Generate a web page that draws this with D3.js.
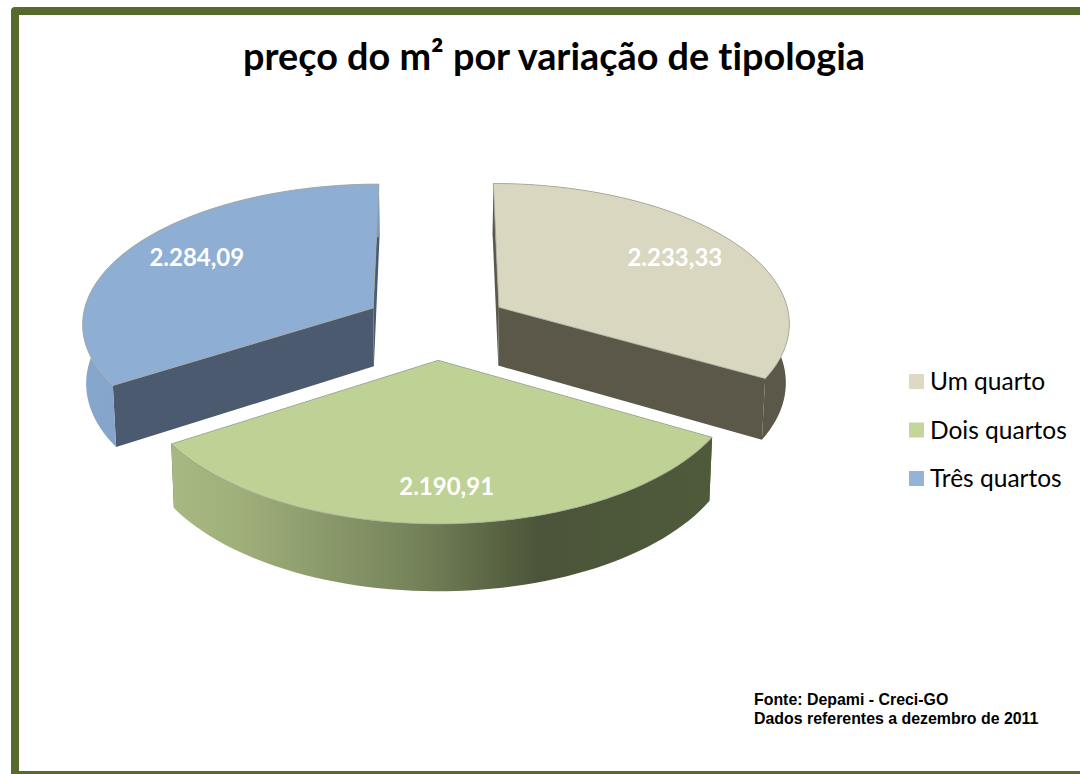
<html>

<head>
    <meta charset="utf-8">
    <style>
        body { margin: 0; background: white; }
        svg { display: block; }
        text { font-family: Lato, sans-serif; font-variant-ligatures: none; }
        .slices path { stroke-linejoin: round; }
    </style>
</head>

<body>
    <svg id="container" width="1080" height="774"></svg>
</body>
<script src="https://cdn.jsdelivr.net/npm/d3@7"></script>
<script>
    const categories = ["Um quarto", "Dois quartos", "Três quartos"]
    const values = [2233.33, 2190.91, 2284.09]
    const valueLabels = ["2.233,33", "2.190,91", "2.284,09"]
    const topColors = ["#d9d7bf", "#bfd295", "#8faed4"]
    const legendColors = ["#ddd9c3", "#c3d69b", "#95b3d7"]
    const wallColors = ["#5b5749", "url(#greenWall)", "url(#blueWall)"]
    const cutColors = ["#5b5749", "#4e5a3b", "#4b5a6e"]
    const sourceLines = ["Fonte: Depami - Creci-GO", "Dados referentes a dezembro de 2011"]

    let svg = d3.select("#container")

    // page frame, only the left, top and bottom edges fall inside the picture
    svg.append("rect")
        .attr("x", 15).attr("y", 11)
        .attr("width", 1200).attr("height", 764)
        .attr("fill", "none")
        .attr("stroke", "#566a2c")
        .attr("stroke-width", 8)
        .attr("stroke-linejoin", "round")

    svg.append("text")
        .attr("x", 554).attr("y", 70)
        .attr("text-anchor", "middle")
        .attr("font-size", 37.8)
        .attr("font-weight", "bold")
        .attr("fill", "#000")
        .text("preço do m² por variação de tipologia")

    let defs = svg.append("defs")
    function addGradient(id, stops) {
        let g = defs.append("linearGradient").attr("id", id)
        stops.forEach(s => g.append("stop").attr("offset", s[0]).attr("stop-color", s[1]))
    }
    addGradient("greenWall", [[0, "#a8b882"], [0.12, "#a0b07b"], [0.45, "#75835a"], [0.68, "#4b5438"], [1, "#4f5a3b"]])
    addGradient("blueWall", [[0, "#86a6cc"], [1, "#7c9abd"]])

    // the pie lies on a tilted plane: depth runs towards the viewer and things get bigger as they come closer
    let persp = 0.1
    let explode = 0.25
    let thickness = 59
    let shrink = 0.01

    let scaleX = d3.scaleLinear().domain([-1, 1]).range([436.5 - 292, 436.5 + 292])
    let scaleY = d3.scaleLinear().domain([-1, 1]).range([324.6 - 139.5, 324.6 + 139.5])

    function project(wx, wy, z) {
        let s = 1 / (1 - persp * wy)
        return [
            scaleX(wx * s * (1 - shrink * z)) ,
            scaleY(wy * s) + thickness * s * z
        ]
    }

    let pie = d3.pie().sort(null)
    let arcs = pie(values)
    let line = d3.line()

    arcs.forEach(a => {
        let mid = (a.startAngle + a.endAngle) / 2
        a.ox = Math.sin(mid) * explode
        a.oy = -Math.cos(mid) * explode
    })

    function radial(a, angle, r, z) {
        return project(a.ox + Math.sin(angle) * r, a.oy - Math.cos(angle) * r, z)
    }

    function rim(a, z) {
        return d3.range(0, 61).map(i => {
            let t = a.startAngle + (a.endAngle - a.startAngle) * i / 60
            return radial(a, t, 1, z)
        })
    }

    let slices = svg.append("g").attr("class", "slices")

    // back slices first so the green one sits in front
    let order = [0, 2, 1]
    order.forEach(i => {
        let a = arcs[i]
        let g = slices.append("g")

        ;[a.startAngle, a.endAngle].forEach(angle => {
            g.append("path")
                .attr("d", line([
                    radial(a, angle, 0, 0), radial(a, angle, 1, 0),
                    radial(a, angle, 1, 1), radial(a, angle, 0, 1)
                ]) + "Z")
                .attr("fill", cutColors[i])
        })

        g.append("path")
            .attr("d", line(rim(a, 0).concat(rim(a, 1).reverse())) + "Z")
            .attr("fill", wallColors[i])

        g.append("path")
            .attr("d", line([radial(a, 0, 0, 0)].concat(rim(a, 0))) + "Z")
            .attr("fill", topColors[i])
            .attr("stroke", "#a3a89a")
            .attr("stroke-width", 0.8)
    })

    // distance of each value label from the slice tip, along the middle of the slice, plus a small nudge
    let labelRadius = [0.74, 0.8, 0.73]
    let labelNudge = [[0, 0], [2, 0], [0, -3]]
    function labelPos(d, i) {
        let p = radial(d, (d.startAngle + d.endAngle) / 2, labelRadius[i], 0)
        return [p[0] + labelNudge[i][0], p[1] + 7 + labelNudge[i][1]]
    }
    svg.append("g").selectAll("text")
        .data(arcs)
        .enter()
        .append("text")
        .attr("x", (d, i) => labelPos(d, i)[0])
        .attr("y", (d, i) => labelPos(d, i)[1])
        .attr("text-anchor", "middle")
        .attr("font-size", 24)
        .attr("font-weight", "bold")
        .attr("fill", "#fff")
        .text((d, i) => valueLabels[i])

    let legendY = d3.scalePoint().domain(categories).range([382, 479])
    let legend = svg.append("g").selectAll("g")
        .data(categories)
        .enter()
        .append("g")
        .attr("transform", d => `translate(909,${legendY(d)})`)
    legend.append("rect")
        .attr("y", -8).attr("width", 15).attr("height", 15)
        .attr("fill", (d, i) => legendColors[i])
    legend.append("text")
        .attr("x", 21).attr("y", 8)
        .attr("font-size", 24.5)
        .attr("fill", "#000")
        .text(d => d)

    svg.append("g").selectAll("text")
        .data(sourceLines)
        .enter()
        .append("text")
        .attr("x", 754)
        .attr("y", (d, i) => 705 + i * 19)
        .attr("font-size", 15.9)
        .attr("font-weight", "bold")
        .style("font-family", "'Liberation Sans', sans-serif")
        .attr("fill", "#000")
        .text(d => d)
</script>

</html>
